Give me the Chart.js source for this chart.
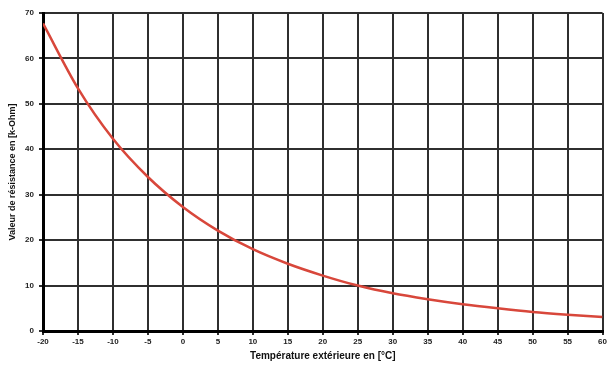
<!DOCTYPE html>
<html>
<head>
<meta charset="utf-8">
<script src="https://cdn.jsdelivr.net/npm/chart.js@4"></script>
<style>
  html, body { margin: 0; padding: 0; background: #fff; }
  #wrap { width: 609px; height: 365px; }
</style>
</head>
<body>
<div id="wrap"><canvas id="chart"></canvas></div>
<script>
const temperatures = [-20, -15, -10, -5, 0, 5, 10, 15, 20, 25, 30, 35, 40, 45, 50, 55, 60];
const resistance = [67.7, 53.4, 42.3, 33.9, 27.3, 22.1, 18.0, 14.8, 12.2, 10.0, 8.3, 7.0, 5.9, 5.0, 4.2, 3.6, 3.1];

const fontFamily = "'Liberation Sans', Arial, sans-serif";
const gridColor = "#2f2f2f";

new Chart(document.getElementById("chart"), {
  type: "line",
  data: {
    datasets: [{
      data: temperatures.map((t, i) => ({ x: t, y: resistance[i] })),
      borderColor: "#d8473b",
      borderWidth: 2.5,
      pointRadius: 0,
      cubicInterpolationMode: "monotone",
      fill: false,
    }],
  },
  options: {
    responsive: true,
    maintainAspectRatio: false,
    animation: false,
    layout: { padding: { top: 13, right: 6, left: 0, bottom: 0 } },
    plugins: { legend: { display: false }, tooltip: { enabled: false } },
    scales: {
      x: {
        type: "linear",
        min: -20,
        max: 60,
        afterFit: (scale) => { scale.height = 34; },
        ticks: {
          stepSize: 5,
          color: "#222",
          padding: 2,
          maxRotation: 0,
          font: { family: fontFamily, size: 8, weight: "bold" },
        },
        grid: { color: gridColor, lineWidth: 2, tickLength: 4 },
        border: { color: "#000", width: 3 },
        title: {
          display: true,
          text: "Température extérieure en [°C]",
          color: "#111",
          padding: { top: 2, bottom: 3 },
          font: { family: fontFamily, size: 10, weight: "bold" },
        },
      },
      y: {
        min: 0,
        max: 70,
        afterFit: (scale) => { scale.width = 43; },
        ticks: {
          stepSize: 10,
          color: "#222",
          padding: 5,
          font: { family: fontFamily, size: 8, weight: "bold" },
        },
        grid: { color: gridColor, lineWidth: 2, tickLength: 4 },
        border: { color: "#000", width: 3 },
        title: {
          display: true,
          text: "Valeur de résistance en [k-Ohm]",
          color: "#111",
          padding: { top: 7, bottom: 0 },
          font: { family: fontFamily, size: 9, weight: "bold" },
        },
      },
    },
  },
});
</script>
</body>
</html>
